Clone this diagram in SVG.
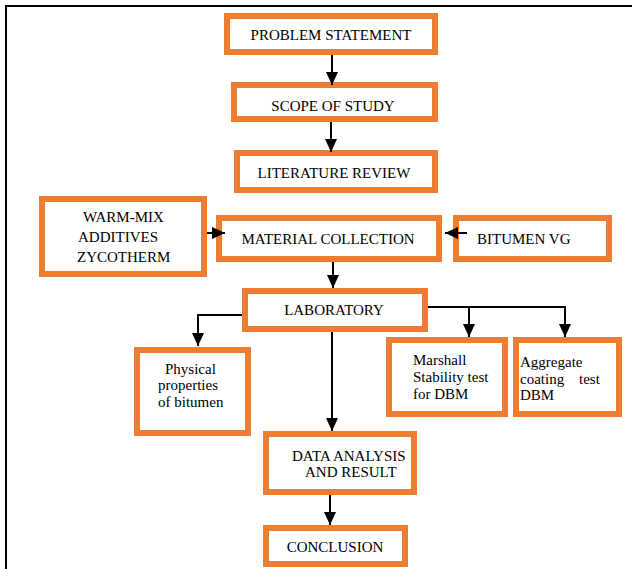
<svg xmlns="http://www.w3.org/2000/svg" width="632" height="569" viewBox="0 0 632 569">
  <style>
    .box { fill: #ffffff; stroke: #ED7D31; stroke-width: 6; }
    .t { font-family: "Liberation Serif", "Times New Roman", serif; font-size: 15px; fill: #000000; }
    .c { text-anchor: middle; }
    .conn { fill: none; stroke: #000000; stroke-width: 2; }
    .frame { fill: none; stroke: #000000; stroke-width: 2; }
  </style>
  <defs>
    <marker id="arrow" markerUnits="userSpaceOnUse" markerWidth="13" markerHeight="12" refX="13" refY="6" orient="auto">
      <path d="M0,0 L13,6 L0,12 Z" fill="#000000"/>
    </marker>
  </defs>
  <rect x="0" y="0" width="632" height="569" fill="#ffffff"/>
  <path class="frame" d="M6,569 V6 H632"/>

  <g id="problem-statement">
    <rect class="box" x="227" y="16" width="208" height="36"/>
    <text class="t c" x="331" y="40">PROBLEM STATEMENT</text>
  </g>
  <g id="scope-of-study">
    <rect class="box" x="234" y="85" width="201" height="34"/>
    <text class="t c" x="333" y="111">SCOPE OF STUDY</text>
  </g>
  <g id="literature-review">
    <rect class="box" x="237" y="153" width="198" height="37"/>
    <text class="t c" x="334" y="178">LITERATURE REVIEW</text>
  </g>
  <g id="warm-mix">
    <rect class="box" x="42" y="199" width="162" height="75"/>
    <text class="t" x="83" y="222">WARM-MIX</text>
    <text class="t" x="78" y="242">ADDITIVES</text>
    <text class="t" x="77" y="262">ZYCOTHERM</text>
  </g>
  <g id="material-collection">
    <rect class="box" x="219" y="218" width="220" height="41"/>
    <text class="t c" x="328" y="244">MATERIAL COLLECTION</text>
  </g>
  <g id="bitumen-vg">
    <rect class="box" x="456" y="218" width="153" height="41"/>
    <text class="t" x="477" y="244">BITUMEN VG</text>
  </g>
  <g id="laboratory">
    <rect class="box" x="245" y="291" width="180" height="38"/>
    <text class="t c" x="334" y="315">LABORATORY</text>
  </g>
  <g id="physical-properties">
    <rect class="box" x="137" y="350" width="111" height="83"/>
    <text class="t" x="165" y="374">Physical</text>
    <text class="t" x="158" y="390">properties</text>
    <text class="t" x="158" y="407">of bitumen</text>
  </g>
  <g id="marshall">
    <rect class="box" x="389" y="340" width="116" height="74"/>
    <text class="t" x="413" y="365">Marshall</text>
    <text class="t" x="413" y="382">Stability test</text>
    <text class="t" x="413" y="399">for DBM</text>
  </g>
  <g id="aggregate-coating">
    <rect class="box" x="516" y="340" width="103" height="74"/>
    <text class="t" x="520" y="367">Aggregate</text>
    <text class="t" x="520" y="384">coating</text>
    <text class="t" x="579" y="384">test</text>
    <text class="t" x="520" y="400">DBM</text>
  </g>
  <g id="data-analysis">
    <rect class="box" x="266" y="434" width="148" height="58"/>
    <text class="t" x="292" y="461">DATA ANALYSIS</text>
    <text class="t" x="305" y="477">AND RESULT</text>
  </g>
  <g id="conclusion">
    <rect class="box" x="266" y="528" width="139" height="36"/>
    <text class="t c" x="335" y="552">CONCLUSION</text>
  </g>

  <g id="connectors">
    <path class="conn" d="M332,55 V85" marker-end="url(#arrow)"/>
    <path class="conn" d="M331,122 V152" marker-end="url(#arrow)"/>
    <path class="conn" d="M207,233 H225" marker-end="url(#arrow)"/>
    <path class="conn" d="M467,233 H445" marker-end="url(#arrow)"/>
    <path class="conn" d="M333,262 V288" marker-end="url(#arrow)"/>
    <path class="conn" d="M242,315 H198 V346" marker-end="url(#arrow)"/>
    <path class="conn" d="M332,332 V431" marker-end="url(#arrow)"/>
    <path class="conn" d="M428,307 H469 V337" marker-end="url(#arrow)"/>
    <path class="conn" d="M469,307 H565 V337" marker-end="url(#arrow)"/>
    <path class="conn" d="M330,495 V525" marker-end="url(#arrow)"/>
  </g>
</svg>
